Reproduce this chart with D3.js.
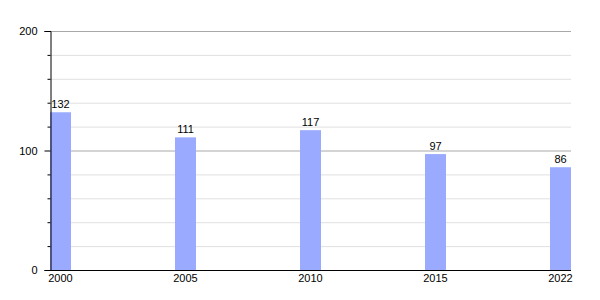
<!DOCTYPE html>
<html><head><meta charset="utf-8">
<script src="https://cdn.jsdelivr.net/npm/d3@7"></script>
<style>body{margin:0;background:#fff}svg{display:block}text{font-family:"Liberation Sans",Arial,sans-serif;font-size:11px;fill:#000}</style>
</head><body><svg width="600" height="300"></svg>
<script>
const years = ["2000","2005","2010","2015","2022"];
const values = [132,111,117,97,86];
const majorTicks = [0,100,200];
const minorTicks = [20,40,60,80,120,140,160,180];

(function(){
const svg = d3.select("svg");
const mLeft = 50, mRight = 571, mTop = 31, mBottom = 270;
const barW = 21;
const x = d3.scalePoint().domain(years).range([mLeft, mRight - barW]);
const y = d3.scaleLinear().domain([0,200]).range([mBottom, mTop]);

svg.selectAll(".minor").data(minorTicks).enter().append("line")
  .attr("x1", mLeft).attr("x2", mRight).attr("y1", d=>y(d)+0.5).attr("y2", d=>y(d)+0.5)
  .attr("stroke", "#e0e0e0").attr("stroke-width", 1);
svg.selectAll(".major").data(majorTicks.filter(d=>d>0)).enter().append("line")
  .attr("x1", mLeft).attr("x2", mRight).attr("y1", d=>y(d)+0.5).attr("y2", d=>y(d)+0.5)
  .attr("stroke", "#a8a8a8").attr("stroke-width", 1);

svg.selectAll(".bar").data(values).enter().append("rect")
  .attr("x", (d,i)=>x(years[i])).attr("width", barW)
  .attr("y", d=>y(d)).attr("height", d=>mBottom - y(d))
  .attr("fill", "#99aaff");

svg.selectAll(".vl").data(values).enter().append("text")
  .attr("x", (d,i)=>x(years[i]) + barW/2).attr("y", d=>y(d)-4)
  .attr("text-anchor","middle").text(d=>d);

const yAxis = d3.axisLeft(y).tickValues(majorTicks).tickSize(6).tickPadding(7).tickFormat(d3.format("d"));
const ga = svg.append("g").attr("transform", `translate(${mLeft+0.5},0)`).call(yAxis);
ga.select(".domain").attr("stroke","#000");
ga.selectAll(".tick line").attr("stroke","#000");
ga.selectAll(".tick text").attr("font-family","Liberation Sans, Arial, sans-serif").attr("font-size","11px").attr("fill","#000");
const gm = svg.append("g").attr("transform", `translate(${mLeft+0.5},0)`)
  .call(d3.axisLeft(y).tickValues(minorTicks).tickSize(3).tickFormat(""));
gm.select(".domain").remove();
gm.selectAll(".tick line").attr("stroke","#000");

svg.append("line").attr("x1", mLeft).attr("x2", mRight).attr("y1", mBottom+0.5).attr("y2", mBottom+0.5).attr("stroke","#000");

svg.selectAll(".xl").data(years).enter().append("text")
  .attr("x", d=>x(d)+barW/2).attr("y", mBottom+12)
  .attr("text-anchor","middle").text(d=>d);
})();
</script></body></html>
